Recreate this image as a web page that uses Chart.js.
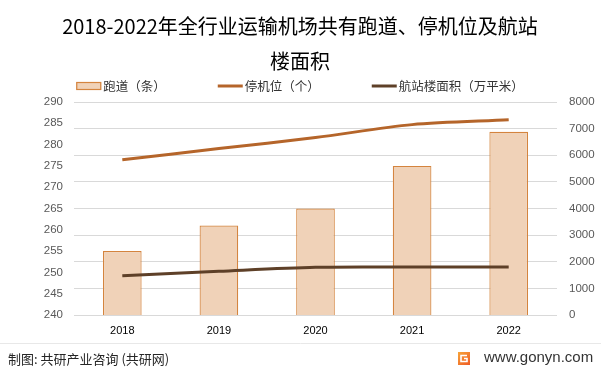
<!DOCTYPE html>
<html>
<head>
<meta charset="utf-8">
<script src="https://cdn.jsdelivr.net/npm/chart.js@4"></script>
<style>
  html, body { margin: 0; padding: 0; background: #fff; }
  #wrap { width: 601px; height: 375px; position: relative; }
</style>
</head>
<body>
<div id="wrap"><canvas id="airport_chart" width="601" height="375"></canvas></div>
<script>
// data
const years = ['2018', '2019', '2020', '2021', '2022'];
const runways = [255, 261, 265, 275, 283];          // 跑道（条）, left axis
const stands = [5830, 6250, 6665, 7150, 7330];       // 停机位（个）, right axis
const terminalArea = [1470, 1640, 1790, 1800, 1805]; // 航站楼面积（万平米）, right axis

const titleLines = ['2018-2022年全行业运输机场共有跑道、停机位及航站', '楼面积'];
const seriesNames = ['跑道（条）', '停机位（个）', '航站楼面积（万平米）'];
const sourceText = '制图: 共研产业咨询 (共研网)';
const siteText = 'www.gonyn.com';

const CJK = '"Noto Sans CJK SC", "Noto Sans", sans-serif';
const NUM = '"Liberation Sans", Arial, sans-serif';

// title, legend and footer drawn by hand so they sit where the reference has them
const decorPlugin = {
    id: 'decor',
    beforeDraw(chart) {
        const ctx = chart.ctx;
        ctx.save();
        ctx.fillStyle = '#fff';
        ctx.fillRect(0, 0, chart.width, chart.height);
        ctx.restore();
    },
    afterDraw(chart) {
        const ctx = chart.ctx;
        ctx.save();

        // title
        ctx.fillStyle = '#000';
        ctx.font = '20px ' + CJK;
        ctx.textAlign = 'center';
        ctx.textBaseline = 'middle';
        ctx.fillText(titleLines[0], 300, 26);
        ctx.fillText(titleLines[1], 300, 61);

        // legend, in the order of the reference
        ctx.font = '12.5px ' + CJK;
        ctx.textAlign = 'left';
        const items = [2, 0, 1].map(i => chart.data.datasets[i]);
        const sw = 25, gapText = 2, gapItem = 52;
        const widths = items.map(d => sw + gapText + ctx.measureText(d.label).width);
        let x = 300 - (widths.reduce((a, b) => a + b, 0) + gapItem * (widths.length - 1)) / 2;
        const ly = 86;
        items.forEach((d, i) => {
            if (d.type === 'bar') {
                ctx.fillStyle = d.backgroundColor;
                ctx.fillRect(x, ly - 4, sw, 8);
                ctx.strokeStyle = d.borderColor;
                ctx.lineWidth = 1.2;
                ctx.strokeRect(x + 0.5, ly - 3.5, sw - 1, 7);
            } else {
                ctx.strokeStyle = d.borderColor;
                ctx.lineWidth = 3;
                ctx.beginPath();
                ctx.moveTo(x, ly);
                ctx.lineTo(x + sw, ly);
                ctx.stroke();
            }
            ctx.fillStyle = '#333';
            ctx.fillText(d.label, x + sw + gapText, ly);
            x += widths[i] + gapItem;
        });

        // footer
        ctx.strokeStyle = '#e8e8e8';
        ctx.lineWidth = 1;
        ctx.beginPath();
        ctx.moveTo(0, 343.5);
        ctx.lineTo(601, 343.5);
        ctx.stroke();

        ctx.fillStyle = '#262626';
        ctx.font = '13px ' + CJK;
        ctx.fillText(sourceText, 8, 359);

        const grad = ctx.createLinearGradient(458, 352, 470, 365);
        grad.addColorStop(0, '#f7a53a');
        grad.addColorStop(1, '#ef5a24');
        ctx.fillStyle = grad;
        ctx.fillRect(458, 352, 12, 13);
        ctx.strokeStyle = '#fff';
        ctx.lineWidth = 1.6;
        ctx.beginPath();
        ctx.moveTo(467, 355.5);
        ctx.lineTo(461, 355.5);
        ctx.lineTo(461, 361.5);
        ctx.lineTo(467, 361.5);
        ctx.lineTo(467, 358.5);
        ctx.lineTo(464, 358.5);
        ctx.stroke();

        ctx.fillStyle = '#333';
        ctx.font = '15px ' + NUM;
        ctx.fillText(siteText, 484, 358);

        ctx.restore();
    }
};

const canvas = document.getElementById('airport_chart');
new Chart(canvas, {
    data: {
        labels: years,
        datasets: [
            {
                type: 'line',
                label: seriesNames[1],
                data: stands,
                yAxisID: 'y1',
                borderColor: '#b5652a',
                borderWidth: 3,
                pointRadius: 0,
                tension: 0.3,
                order: 1
            },
            {
                type: 'line',
                label: seriesNames[2],
                data: terminalArea,
                yAxisID: 'y1',
                borderColor: '#5e4028',
                borderWidth: 3,
                pointRadius: 0,
                tension: 0.3,
                order: 2
            },
            {
                type: 'bar',
                label: seriesNames[0],
                data: runways,
                yAxisID: 'y',
                backgroundColor: '#f0d2b8',
                borderColor: '#d4843e',
                borderWidth: 1.2,
                barPercentage: 0.4,
                categoryPercentage: 1,
                order: 3
            }
        ]
    },
    options: {
        responsive: false,
        animation: false,
        devicePixelRatio: 1,
        layout: { padding: { top: 102, bottom: 30, left: 0, right: 0 } },
        plugins: {
            legend: { display: false },
            title: { display: false },
            tooltip: { enabled: false }
        },
        scales: {
            x: {
                grid: { display: false, drawTicks: false },
                border: { display: false },
                ticks: { color: '#000', font: { family: NUM, size: 11 }, padding: 9 },
                afterFit: s => { s.height = 30; }
            },
            y: {
                position: 'left',
                min: 240,
                max: 290,
                ticks: { stepSize: 5, color: '#595959', font: { family: NUM, size: 11.5 }, padding: 11 },
                grid: { display: false, drawTicks: false },
                border: { display: false },
                afterFit: s => { s.width = 74; }
            },
            y1: {
                position: 'right',
                min: 0,
                max: 8000,
                ticks: {
                    stepSize: 1000,
                    color: '#595959',
                    font: { family: NUM, size: 11.5 },
                    padding: 12,
                    callback: v => String(v)
                },
                grid: { color: '#d9d9d9', lineWidth: 1, drawTicks: false },
                border: { display: false },
                afterFit: s => { s.width = 44; }
            }
        }
    },
    plugins: [decorPlugin]
});
</script>
</body>
</html>
